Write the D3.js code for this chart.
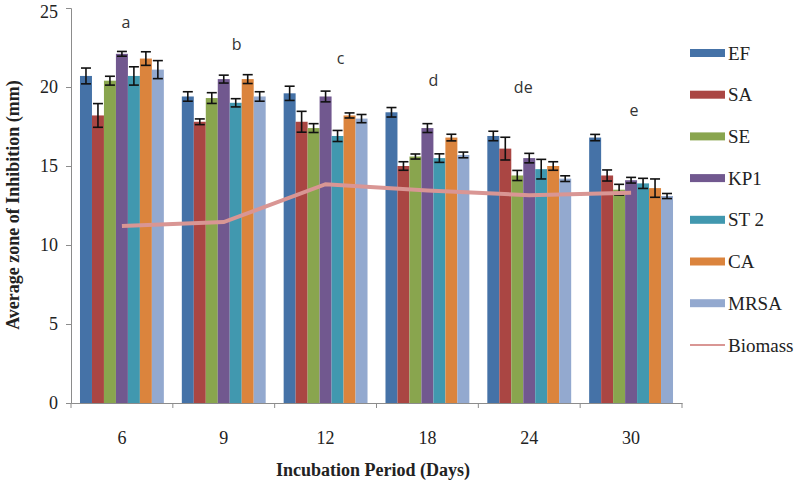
<!DOCTYPE html>
<html>
<head>
<meta charset="utf-8">
<script src="https://cdn.jsdelivr.net/npm/d3@7"></script>
<style>
  body { margin: 0; background: #fff; }
  #svg-container { width: 797px; height: 480px; }
</style>
</head>
<body>
<div id="svg-container"></div>
<script>
var days = ["6", "9", "12", "18", "24", "30"];
var series = ["EF", "SA", "SE", "KP1", "ST 2", "CA", "MRSA"];
var colors = ["#4572A7", "#AA4643", "#89A54E", "#71588F", "#4198AF", "#DB843D", "#93A9CF"];

// mean zone of inhibition per organism, one value per incubation day
var EF   = [20.7, 19.4, 19.6, 18.4, 16.9, 16.8];
var SA   = [18.2, 17.8, 17.8, 15.0, 16.1, 14.4];
var SE   = [20.4, 19.3, 17.4, 15.6, 14.4, 13.5];
var KP1  = [22.1, 20.5, 19.4, 17.4, 15.5, 14.1];
var ST2  = [20.7, 19.0, 16.9, 15.5, 14.8, 13.9];
var CA   = [21.8, 20.5, 18.2, 16.8, 15.0, 13.6];
var MRSA = [21.1, 19.4, 18.0, 15.7, 14.2, 13.1];

// error bar half lengths
var errEF   = [0.5, 0.3, 0.45, 0.3, 0.3, 0.2];
var errSA   = [0.75, 0.18, 0.66, 0.27, 0.72, 0.35];
var errSE   = [0.28, 0.34, 0.28, 0.16, 0.32, 0.34];
var errKP1  = [0.15, 0.25, 0.34, 0.28, 0.3, 0.18];
var errST2  = [0.58, 0.26, 0.35, 0.27, 0.62, 0.32];
var errCA   = [0.43, 0.28, 0.16, 0.21, 0.27, 0.58];
var errMRSA = [0.57, 0.3, 0.26, 0.18, 0.18, 0.16];

var biomass = [11.2, 11.45, 13.85, 13.45, 13.15, 13.3];

var letters = ["a", "b", "c", "d", "de", "e"];
var letterY = [24.1, 22.7, 21.8, 20.4, 20.0, 18.5];

var values = [EF, SA, SE, KP1, ST2, CA, MRSA];
var errors = [errEF, errSA, errSE, errKP1, errST2, errCA, errMRSA];

var serif = "'Liberation Serif', 'Times New Roman', serif";

var width = 797, height = 480;
var plot = { left: 71, right: 682, top: 8, bottom: 403 };

var svg = d3.select("#svg-container")
            .append("svg")
            .attr("width", width)
            .attr("height", height);

var x0 = d3.scaleBand()
           .domain(days)
           .range([plot.left, plot.right])
           .padding(0);

var x1 = d3.scaleBand()
           .domain(series)
           .range([0, x0.bandwidth()])
           .paddingInner(0)
           .paddingOuter(0.75);

var y = d3.scaleLinear()
          .domain([0, 25])
          .range([plot.bottom, plot.top]);

var rows = [];
series.forEach(function(s, i) {
  days.forEach(function(d, j) {
    rows.push({ series: s, day: d, value: values[i][j], err: errors[i][j], color: colors[i] });
  });
});

// y axis
var yAxis = svg.append("g")
   .attr("transform", "translate(" + plot.left + ",0)")
   .call(d3.axisLeft(y).tickValues([0, 5, 10, 15, 20, 25]).tickSize(5).tickPadding(8));
yAxis.select(".domain").attr("stroke", "#8c8c8c");
yAxis.selectAll(".tick line").attr("stroke", "#8c8c8c");
yAxis.selectAll(".tick text").attr("font-size", 18).attr("fill", "#222")
     .style("font-family", serif);
yAxis.selectAll(".tick text").filter(function(d) { return d === 25; }).attr("dy", "0.5em");

// bars
svg.append("g").selectAll("rect")
   .data(rows)
   .enter().append("rect")
   .attr("x", function(d) { return x0(d.day) + x1(d.series); })
   .attr("y", function(d) { return y(d.value); })
   .attr("width", x1.bandwidth())
   .attr("height", function(d) { return y(0) - y(d.value); })
   .attr("fill", function(d) { return d.color; });

// error bars
var eb = svg.append("g").attr("stroke", "#111").attr("stroke-width", 1.6);
rows.forEach(function(d) {
  var cx = x0(d.day) + x1(d.series) + x1.bandwidth() / 2;
  var hi = y(d.value + d.err), lo = y(d.value - d.err);
  eb.append("line").attr("x1", cx).attr("x2", cx).attr("y1", hi).attr("y2", lo);
  eb.append("line").attr("x1", cx - 5).attr("x2", cx + 5).attr("y1", hi).attr("y2", hi);
  eb.append("line").attr("x1", cx - 5).attr("x2", cx + 5).attr("y1", lo).attr("y2", lo);
});

// x axis
var xAxis = svg.append("g")
   .attr("transform", "translate(0," + plot.bottom + ")")
   .call(d3.axisBottom(x0).tickSize(0).tickPadding(28));
xAxis.select(".domain").attr("stroke", "#8c8c8c");
xAxis.selectAll(".tick text").attr("font-size", 18).attr("fill", "#222")
     .style("font-family", serif);
svg.append("g").selectAll("line")
   .data(days.concat([null]))
   .enter().append("line")
   .attr("x1", function(d, i) { return plot.left + i * x0.step(); })
   .attr("x2", function(d, i) { return plot.left + i * x0.step(); })
   .attr("y1", plot.bottom)
   .attr("y2", plot.bottom + 5)
   .attr("stroke", "#8c8c8c");

// biomass line
var biomassLine = d3.line()
    .x(function(d, i) { return x0(days[i]) + x0.bandwidth() / 2; })
    .y(function(d) { return y(d); });

svg.append("path")
   .datum(biomass)
   .attr("fill", "none")
   .attr("stroke", "#D99694")
   .attr("stroke-width", 4)
   .attr("d", biomassLine);

// significance letters
var letterDx = [4, 13, 15, 6, -6, 3];
svg.append("g").selectAll("text")
   .data(letters)
   .enter().append("text")
   .attr("x", function(d, i) { return x0(days[i]) + x0.bandwidth() / 2 + letterDx[i]; })
   .attr("y", function(d, i) { return y(letterY[i]); })
   .attr("dy", "0.35em")
   .attr("text-anchor", "middle")
   .attr("font-size", 16)
   .attr("fill", "#333")
   .style("font-family", "'Open Sans', 'Noto Sans', sans-serif")
   .text(function(d) { return d; });

// axis titles
svg.append("text")
   .attr("transform", "translate(19,205) rotate(-90)")
   .attr("text-anchor", "middle")
   .attr("font-size", 18)
   .attr("font-weight", "bold")
   .attr("fill", "#222")
   .style("font-family", serif)
   .text("Average zone of Inhibition (mm)");

svg.append("text")
   .attr("x", 373)
   .attr("y", 476)
   .attr("text-anchor", "middle")
   .attr("font-size", 18)
   .attr("font-weight", "bold")
   .attr("fill", "#222")
   .style("font-family", serif)
   .text("Incubation Period (Days)");

// legend
var legendItems = series.concat(["Biomass"]);
var legend = svg.append("g").attr("transform", "translate(690,53)");
legendItems.forEach(function(name, i) {
  var g = legend.append("g").attr("transform", "translate(0," + i * 41.7 + ")");
  if (i < series.length) {
    g.append("rect").attr("x", 0).attr("y", -4).attr("width", 35).attr("height", 8).attr("fill", colors[i]);
  } else {
    g.append("line").attr("x1", 0).attr("x2", 35).attr("y1", 0).attr("y2", 0)
     .attr("stroke", "#D99694").attr("stroke-width", 2);
  }
  g.append("text").attr("x", 38).attr("y", 0).attr("dy", "0.35em")
   .attr("font-size", 19).attr("fill", "#222")
   .style("font-family", serif)
   .text(name);
});
</script>
</body>
</html>
